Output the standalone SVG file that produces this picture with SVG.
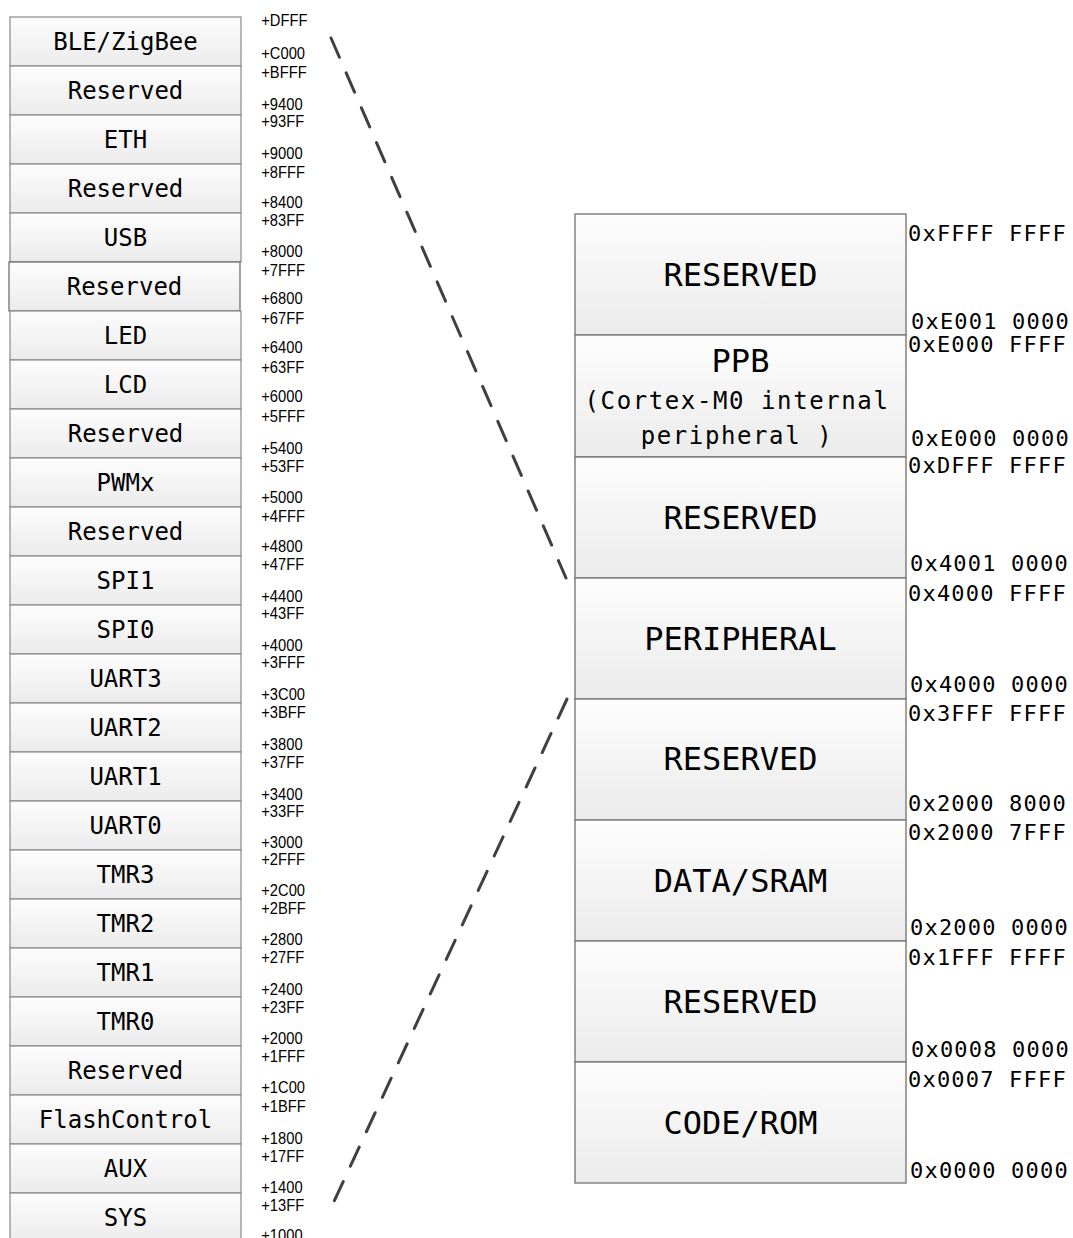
<svg xmlns="http://www.w3.org/2000/svg" width="1073" height="1238" viewBox="0 0 1073 1238">
<defs>
<linearGradient id="g" x1="0" y1="0" x2="0" y2="1">
<stop offset="0" stop-color="#fdfdfd"/>
<stop offset="1" stop-color="#ebebeb"/>
</linearGradient>
<style>
.lb{fill:url(#g);stroke:#8a8a8a;stroke-width:1.2}
.rb{fill:url(#g);stroke:#7a7a7a;stroke-width:1.4}
.lt{font-family:"DejaVu Sans Mono","Liberation Mono",monospace;font-size:24px;fill:#000;text-anchor:middle}
.rt{font-family:"DejaVu Sans Mono","Liberation Mono",monospace;font-size:32px;fill:#000;text-anchor:middle}
.rs{font-family:"DejaVu Sans Mono","Liberation Mono",monospace;font-size:24px;letter-spacing:1.6px;fill:#000;text-anchor:middle}
.ad{font-family:"DejaVu Sans Mono","Liberation Mono",monospace;font-size:22px;letter-spacing:1.2px;fill:#000}
.sm{font-family:"Liberation Sans",Arial,sans-serif;font-size:16px;fill:#000}
.dash{fill:none;stroke:#404040;stroke-width:3;stroke-dasharray:21 17;stroke-linecap:round}
</style>
</defs>
<rect width="1073" height="1238" fill="#fff"/>

<g id="left-blocks">
<g id="n-ble"><rect class="lb" x="10" y="17" width="231" height="49"/><text class="lt" x="125.5" y="50">BLE/ZigBee</text></g>
<g id="n-res1"><rect class="lb" x="10" y="66" width="231" height="49"/><text class="lt" x="125.5" y="99">Reserved</text></g>
<g id="n-eth"><rect class="lb" x="10" y="115" width="231" height="49"/><text class="lt" x="125.5" y="148">ETH</text></g>
<g id="n-res2"><rect class="lb" x="10" y="164" width="231" height="49"/><text class="lt" x="125.5" y="197">Reserved</text></g>
<g id="n-usb"><rect class="lb" x="10" y="213" width="231" height="49"/><text class="lt" x="125.5" y="246">USB</text></g>
<g id="n-res3"><rect class="lb" x="9" y="262" width="231" height="49" style="stroke:#666"/><text class="lt" x="124.5" y="295">Reserved</text></g>
<g id="n-led"><rect class="lb" x="10" y="311" width="231" height="49"/><text class="lt" x="125.5" y="344">LED</text></g>
<g id="n-lcd"><rect class="lb" x="10" y="360" width="231" height="49"/><text class="lt" x="125.5" y="393">LCD</text></g>
<g id="n-res4"><rect class="lb" x="10" y="409" width="231" height="49"/><text class="lt" x="125.5" y="442">Reserved</text></g>
<g id="n-pwm"><rect class="lb" x="10" y="458" width="231" height="49"/><text class="lt" x="125.5" y="491">PWMx</text></g>
<g id="n-res5"><rect class="lb" x="10" y="507" width="231" height="49"/><text class="lt" x="125.5" y="540">Reserved</text></g>
<g id="n-spi1"><rect class="lb" x="10" y="556" width="231" height="49"/><text class="lt" x="125.5" y="589">SPI1</text></g>
<g id="n-spi0"><rect class="lb" x="10" y="605" width="231" height="49"/><text class="lt" x="125.5" y="638">SPI0</text></g>
<g id="n-uart3"><rect class="lb" x="10" y="654" width="231" height="49"/><text class="lt" x="125.5" y="687">UART3</text></g>
<g id="n-uart2"><rect class="lb" x="10" y="703" width="231" height="49"/><text class="lt" x="125.5" y="736">UART2</text></g>
<g id="n-uart1"><rect class="lb" x="10" y="752" width="231" height="49"/><text class="lt" x="125.5" y="785">UART1</text></g>
<g id="n-uart0"><rect class="lb" x="10" y="801" width="231" height="49"/><text class="lt" x="125.5" y="834">UART0</text></g>
<g id="n-tmr3"><rect class="lb" x="10" y="850" width="231" height="49"/><text class="lt" x="125.5" y="883">TMR3</text></g>
<g id="n-tmr2"><rect class="lb" x="10" y="899" width="231" height="49"/><text class="lt" x="125.5" y="932">TMR2</text></g>
<g id="n-tmr1"><rect class="lb" x="10" y="948" width="231" height="49"/><text class="lt" x="125.5" y="981">TMR1</text></g>
<g id="n-tmr0"><rect class="lb" x="10" y="997" width="231" height="49"/><text class="lt" x="125.5" y="1030">TMR0</text></g>
<g id="n-res6"><rect class="lb" x="10" y="1046" width="231" height="49"/><text class="lt" x="125.5" y="1079">Reserved</text></g>
<g id="n-flash"><rect class="lb" x="10" y="1095" width="231" height="49"/><text class="lt" x="125.5" y="1128">FlashControl</text></g>
<g id="n-aux"><rect class="lb" x="10" y="1144" width="231" height="49"/><text class="lt" x="125.5" y="1177">AUX</text></g>
<g id="n-sys"><rect class="lb" x="10" y="1193" width="231" height="49"/><text class="lt" x="125.5" y="1226">SYS</text></g>
</g>

<g id="offsets" transform="scale(0.92 1)">
<text class="sm" x="284" y="26">+DFFF</text><text class="sm" x="284" y="59">+C000</text>
<text class="sm" x="284" y="78">+BFFF</text><text class="sm" x="284" y="110">+9400</text>
<text class="sm" x="284" y="127">+93FF</text><text class="sm" x="284" y="159">+9000</text>
<text class="sm" x="284" y="178">+8FFF</text><text class="sm" x="284" y="208">+8400</text>
<text class="sm" x="284" y="226">+83FF</text><text class="sm" x="284" y="257">+8000</text>
<text class="sm" x="284" y="276">+7FFF</text><text class="sm" x="284" y="304">+6800</text>
<text class="sm" x="284" y="324">+67FF</text><text class="sm" x="284" y="353">+6400</text>
<text class="sm" x="284" y="373">+63FF</text><text class="sm" x="284" y="402">+6000</text>
<text class="sm" x="284" y="422">+5FFF</text><text class="sm" x="284" y="454">+5400</text>
<text class="sm" x="284" y="472">+53FF</text><text class="sm" x="284" y="503">+5000</text>
<text class="sm" x="284" y="522">+4FFF</text><text class="sm" x="284" y="552">+4800</text>
<text class="sm" x="284" y="570">+47FF</text><text class="sm" x="284" y="602">+4400</text>
<text class="sm" x="284" y="619">+43FF</text><text class="sm" x="284" y="651">+4000</text>
<text class="sm" x="284" y="668">+3FFF</text><text class="sm" x="284" y="700">+3C00</text>
<text class="sm" x="284" y="718">+3BFF</text><text class="sm" x="284" y="750">+3800</text>
<text class="sm" x="284" y="768">+37FF</text><text class="sm" x="284" y="800">+3400</text>
<text class="sm" x="284" y="817">+33FF</text><text class="sm" x="284" y="848">+3000</text>
<text class="sm" x="284" y="865">+2FFF</text><text class="sm" x="284" y="896">+2C00</text>
<text class="sm" x="284" y="914">+2BFF</text><text class="sm" x="284" y="945">+2800</text>
<text class="sm" x="284" y="963">+27FF</text><text class="sm" x="284" y="995">+2400</text>
<text class="sm" x="284" y="1013">+23FF</text><text class="sm" x="284" y="1044">+2000</text>
<text class="sm" x="284" y="1062">+1FFF</text><text class="sm" x="284" y="1093">+1C00</text>
<text class="sm" x="284" y="1112">+1BFF</text><text class="sm" x="284" y="1144">+1800</text>
<text class="sm" x="284" y="1162">+17FF</text><text class="sm" x="284" y="1193">+1400</text>
<text class="sm" x="284" y="1211">+13FF</text><text class="sm" x="284" y="1241">+1000</text>
</g>

<g id="right-blocks">
<g id="r-res0"><rect class="rb" x="575" y="214" width="331" height="121"/><text class="rt" x="740.5" y="286">RESERVED</text></g>
<g id="r-ppb"><rect class="rb" x="575" y="335" width="331" height="122"/><text class="rt" x="740.5" y="372">PPB</text><text class="rs" x="737" y="409">(Cortex-M0 internal</text><text class="rs" x="737" y="444">peripheral )</text></g>
<g id="r-res1"><rect class="rb" x="575" y="457" width="331" height="121"/><text class="rt" x="740.5" y="529">RESERVED</text></g>
<g id="r-periph"><rect class="rb" x="575" y="578" width="331" height="121"/><text class="rt" x="740.5" y="650">PERIPHERAL</text></g>
<g id="r-res2"><rect class="rb" x="575" y="699" width="331" height="121"/><text class="rt" x="740.5" y="770">RESERVED</text></g>
<g id="r-sram"><rect class="rb" x="575" y="820" width="331" height="121"/><text class="rt" x="740.5" y="892">DATA/SRAM</text></g>
<g id="r-res3"><rect class="rb" x="575" y="941" width="331" height="121"/><text class="rt" x="740.5" y="1013">RESERVED</text></g>
<g id="r-rom"><rect class="rb" x="575" y="1062" width="331" height="121"/><text class="rt" x="740.5" y="1134">CODE/ROM</text></g>
</g>

<g id="addresses">
<text class="ad" x="908" y="241">0xFFFF FFFF</text>
<text class="ad" x="911" y="329">0xE001 0000</text>
<text class="ad" x="908" y="352">0xE000 FFFF</text>
<text class="ad" x="911" y="446">0xE000 0000</text>
<text class="ad" x="908" y="473">0xDFFF FFFF</text>
<text class="ad" x="910" y="571">0x4001 0000</text>
<text class="ad" x="908" y="601">0x4000 FFFF</text>
<text class="ad" x="910" y="692">0x4000 0000</text>
<text class="ad" x="908" y="721">0x3FFF FFFF</text>
<text class="ad" x="908" y="811">0x2000 8000</text>
<text class="ad" x="908" y="840">0x2000 7FFF</text>
<text class="ad" x="910" y="935">0x2000 0000</text>
<text class="ad" x="908" y="965">0x1FFF FFFF</text>
<text class="ad" x="911" y="1057">0x0008 0000</text>
<text class="ad" x="908" y="1087">0x0007 FFFF</text>
<text class="ad" x="910" y="1178">0x0000 0000</text>
</g>

<g id="connectors">
<line class="dash" x1="331" y1="38" x2="566" y2="578"/>
<line class="dash" x1="567" y1="699" x2="331" y2="1208"/>
</g>
</svg>
